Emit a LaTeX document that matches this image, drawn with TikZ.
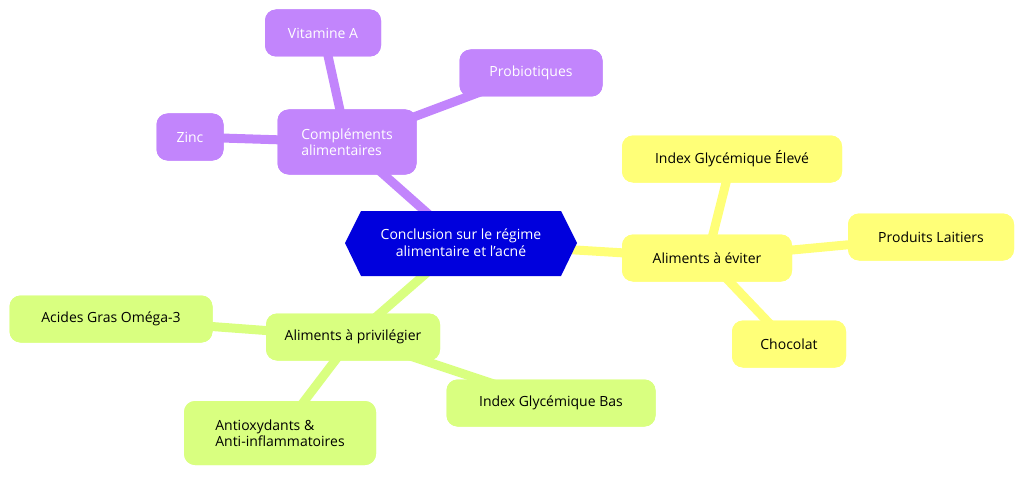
\documentclass[tikz,border=0pt]{standalone}
\usepackage{fontspec}
\setmainfont{Open Sans}
\definecolor{pur}{HTML}{C285FC}
\definecolor{yel}{HTML}{FFFF78}
\definecolor{grn}{HTML}{D9FF80}
\definecolor{rootc}{HTML}{0000DD}
\begin{document}
\begin{tikzpicture}[x=1pt,y=-1pt,
 box/.style={rounded corners=11pt,minimum height=47pt,inner sep=0pt,font=\fontsize{14}{16}\selectfont,align=left},
 P/.style={box,fill=pur,text=white},
 Y/.style={box,fill=yel,text=black},
 G/.style={box,fill=grn,text=black},
 e/.style={line width=9pt}]
\useasboundingbox (0,0) rectangle (1024,476);
\coordinate (r) at (461,243);
\node[P,minimum width=139pt,minimum height=65pt] (c) at (347,142) {Compléments\\alimentaires};
\node[P,minimum width=116pt] (va) at (323,33) {Vitamine A};
\node[P,minimum width=143pt] (pb) at (531,73) {Probiotiques};
\node[P,minimum width=67pt] (zn) at (190,137) {Zinc};
\node[Y,minimum width=170pt] (ae) at (707,258) {Aliments à éviter};
\node[Y,minimum width=220pt] (ige) at (732,159) {Index Glycémique Élevé};
\node[Y,minimum width=166pt] (pl) at (931,237) {Produits Laitiers};
\node[Y,minimum width=114pt] (ch) at (789,344) {Chocolat};
\node[G,minimum width=174pt] (ap) at (353,337) {Aliments à privilégier};
\node[G,minimum width=203pt] (ag) at (111,319) {Acides Gras Oméga-3};
\node[G,minimum width=209pt] (igb) at (551,403) {Index Glycémique Bas};
\node[G,minimum width=192pt,minimum height=64pt] (ax) at (280,433) {Antioxydants \&\\Anti-inflammatoires};
\begin{scope}[on background layer/.try]
\end{scope}
\begin{pgfinterruptboundingbox}
\path[e,draw=pur] (r) -- (c.center) (c.center) -- (va.center) (c.center) -- (pb.center) (c.center) -- (zn.center);
\path[e,draw=yel] (r) -- (ae.center) (ae.center) -- (ige.center) (ae.center) -- (pl.center) (ae.center) -- (ch.center);
\path[e,draw=grn] (r) -- (ap.center) (ap.center) -- (ag.center) (ap.center) -- (igb.center) (ap.center) -- (ax.center);
\end{pgfinterruptboundingbox}
\foreach \n/\s in {c/P,va/P,pb/P,zn/P,ae/Y,ige/Y,pl/Y,ch/Y,ap/G,ag/G,igb/G,ax/G}{}
\node[P,minimum width=139pt,minimum height=65pt] at (347,142) {Compléments\\alimentaires};
\node[P,minimum width=116pt] at (323,33) {Vitamine A};
\node[P,minimum width=143pt] at (531,73) {Probiotiques};
\node[P,minimum width=67pt] at (190,137) {Zinc};
\node[Y,minimum width=170pt] at (707,258) {Aliments à éviter};
\node[Y,minimum width=220pt] at (732,159) {Index Glycémique Élevé};
\node[Y,minimum width=166pt] at (931,237) {Produits Laitiers};
\node[Y,minimum width=114pt] at (789,344) {Chocolat};
\node[G,minimum width=174pt] at (353,337) {Aliments à privilégier};
\node[G,minimum width=203pt] at (111,319) {Acides Gras Oméga-3};
\node[G,minimum width=209pt] at (551,403) {Index Glycémique Bas};
\node[G,minimum width=192pt,minimum height=64pt] at (280,433) {Antioxydants \&\\Anti-inflammatoires};
\fill[rootc] (345,243) -- (361,211) -- (561,211) -- (577,243) -- (561,276) -- (361,276) -- cycle;
\node[font=\fontsize{14}{17}\selectfont,text=white,align=center] (root) at (r) {Conclusion sur le régime\\alimentaire et l'acné};
\end{tikzpicture}
\end{document}
